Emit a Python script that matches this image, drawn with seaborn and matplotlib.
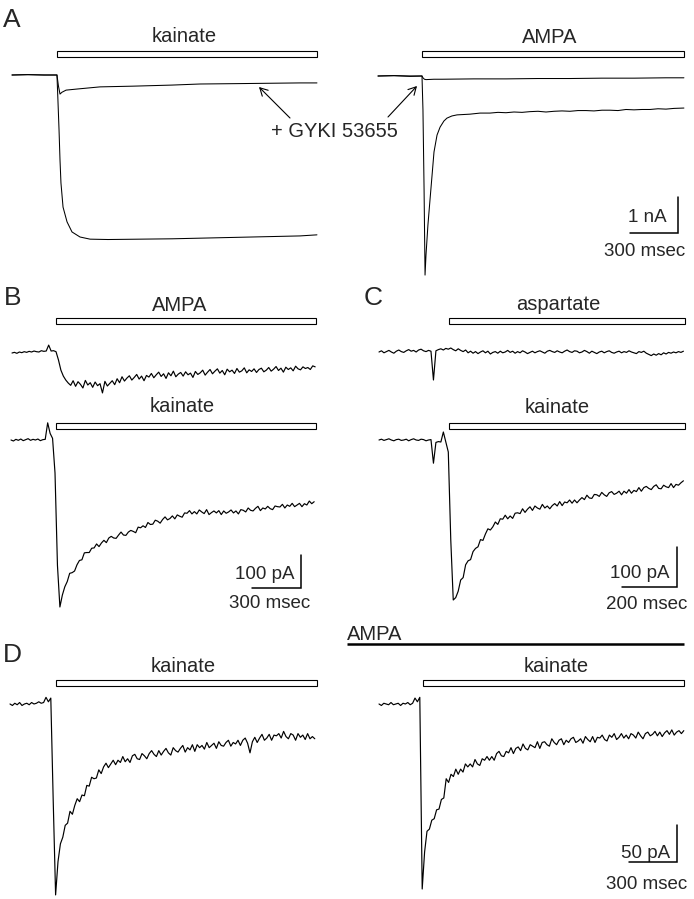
import numpy as np
import matplotlib.pyplot as plt
import matplotlib.transforms as mtransforms
from matplotlib.patches import Rectangle
import seaborn as sns

sns.set_style('white')
plt.rcParams['font.family'] = ['Liberation Sans', 'DejaVu Sans']

# ---- panel A (nA, ms) : smooth traces, sampled at irregular times ----
a_kai_t = [0, 100, 200, 281, 287, 294, 300, 306, 319, 344, 375, 425, 488, 600, 800,
           1000, 1200, 1400, 1600, 1800, 1906]
a_kai_i = [0, 0.01, 0, 0, -0.69, -1.53, -2.36, -3.0, -3.67, -4.08, -4.36, -4.5, -4.56,
           -4.57, -4.56, -4.55, -4.53, -4.51, -4.49, -4.47, -4.44]
a_kai_gyki_t = [0, 100, 200, 281, 290, 300, 312, 338, 406, 550, 756, 1000, 1175, 1400,
                1600, 1800, 1906]
a_kai_gyki_i = [0, 0.01, 0, 0, -0.3, -0.53, -0.48, -0.42, -0.39, -0.33, -0.31, -0.28,
                -0.25, -0.24, -0.23, -0.22, -0.22]

a_ampa_t = [0, 100, 200, 275, 281, 288, 294, 300, 312, 325, 338, 350, 369, 388, 412, 431,
            462, 494, 575, 638, 700, 750, 800, 850, 900, 950, 1000, 1050, 1100, 1150, 1200,
            1250, 1300, 1350, 1400, 1450, 1500, 1550, 1600, 1650, 1700, 1750, 1800, 1850, 1912]
a_ampa_i = [0, 0.01, -0.01, 0, -0.94, -3.17, -5.53, -4.97, -4.14, -3.44, -2.75, -2.11,
            -1.64, -1.42, -1.25, -1.17, -1.11, -1.08, -1.06, -1.03, -1.03, -1.01, -1.02,
            -1.0, -1.01, -0.99, -0.98, -1.0, -0.98, -0.97, -0.98, -0.96, -0.96, -0.97,
            -0.95, -0.95, -0.96, -0.93, -0.94, -0.93, -0.93, -0.91, -0.92, -0.9, -0.89]
a_ampa_gyki_t = [0, 100, 200, 275, 281, 290, 300, 350, 400, 600, 800, 1000, 1200, 1400,
                 1600, 1800, 1912]
a_ampa_gyki_i = [0, 0.01, 0, 0, -0.05, -0.09, -0.1, -0.09, -0.09, -0.08, -0.08, -0.07,
                 -0.07, -0.06, -0.06, -0.05, -0.05]

# ---- panel B (pA), sampled every 15 ms ----
b_dt = 15
b_ampa = [0, 2, -1, 3, 1, 4, 2, 5, 3, 6, 4, 3, 7, 5, 6, 24, 6, 7, 4,
          -21, -52, -70, -82, -91,
          -98, -84, -101, -87, -95, -106, -83, -97, -90, -104, -88, -99, -93, -121, -86,
          -100, -92, -84, -96,
          -78, -90, -72, -85, -76, -69, -82, -74, -65, -79, -70, -84, -68, -73,
          -62, -75, -66, -58, -71, -63, -77, -60, -69, -55, -72, -64, -59, -70, -57, -66,
          -61, -74, -56, -65, -60,
          -52, -67, -58, -50, -63, -55, -48, -61, -53, -66, -49, -57, -52, -62, -47, -58,
          -54, -45, -60, -51, -56, -48, -59, -50, -46, -57, -52,
          -44, -55, -49, -41, -53, -46, -58, -43, -50, -45, -54, -40, -48, -51, -42, -47,
          -44, -50, -39, -42]
b_kai = [0, -3, 2, -1, 3, -2, 1, 4, -1, 2, 0, 3, -2, 1, 2, 52, 20, 5, -100, -380, -506, -470,
         -445, -429, -404, -402, -397, -378, -365, -363, -342, -341, -341, -328, -327, -315,
         -323, -312, -304, -311, -297, -292, -297, -298, -288, -279, -288, -289, -279, -274,
         -277, -281, -264, -266, -260, -265, -250, -256, -255, -243, -246, -252, -241, -233,
         -242, -238, -230, -239, -227, -231, -234, -221, -222, -214, -224, -217, -224, -212,
         -218, -223, -211, -226, -220, -215, -221, -214, -226, -215, -222, -218, -212, -221,
         -215, -224, -211, -213, -218, -206, -213, -215, -207, -201, -214, -206, -209, -201,
         -208, -211, -200, -202, -203, -195, -206, -197, -201, -192, -202, -197, -192, -202,
         -193, -197, -185, -193, -187]

# ---- panel C (pA), sampled every 9 ms ----
c_dt = 9
c_asp = [0, 3, -2, 1, 4, 0, -3, 2, 5, 1, -1, 3, 6, 2, 4, 0, 5, 7, 3, 1, 4, 2,
         -70,
         3, 6, 8, 5, 9, 7, 10, 6, 3, 8, 4, 1, 5, -2, 2,
         -3, 1, -4, 0, 3, -2, 2, -5, -1, 1, -3, 2, -2, 0, 4, -1, 2, -3, 1, -2, 3, 0, -4, -1,
         2, -2, 1, 3, 0, -3, 2, 4, 1, -1, 3, 0, -2, 2, 5, 1, -1, 3, 2, -2, 0, 4, 1, -3, 2,
         -1, -4, 0, 2, -2, 1, 3, -1, -3, 0, 2, -2, 1, -1, 3, 0, -2, -4, 1, -1, 2, -3, -6,
         -9, -5, -8, -4, -7, -2, -5, -1, -3, 0, -2, 1, -1, 2]
c_kai = [0, 2, -1, 1, 3, 0, -2, 1, 2, -1, 0, 2, -2, 1, 3, 0, -1, 2, 1, -2, 0, 1,
         -58, -6, -4, -5, 20, -5, -30, -250,
         -400, -394, -378, -350, -344, -312, -302, -299, -279, -271, -267, -249, -251, -235,
         -222, -225, -217, -205, -211, -197, -198, -188, -197, -190, -196, -183, -182, -184,
         -172, -181, -173, -167, -176, -165, -170, -173, -161, -170, -165, -172, -164, -159,
         -165, -154, -164, -155, -157, -150, -158, -150, -157, -150, -144, -149, -138, -145,
         -146, -136, -137, -141, -131, -137, -141, -132, -129, -136, -133, -128, -137, -128,
         -133, -124, -133, -126, -129, -119, -128, -119, -116, -121, -124, -116, -112, -121,
         -122, -113, -117, -119, -109, -119, -111, -113, -107, -102]

# ---- panel D (pA), sampled every 15 ms ----
d_dt = 15
d_kai = [0, -2, 1, -1, 2, -2, 0, 1, -1, 2, 0, 1, 3, 1, 2, 9, 3, 8,
         -130, -258, -213, -189, -180, -164, -161, -145, -149, -137, -128, -132, -123, -124,
         -110, -111, -99, -101, -100, -89, -94, -85, -80, -86, -81, -76, -82, -76, -79, -71,
         -78, -74, -79, -70, -68, -74, -75, -67, -70, -74, -67, -63, -68, -71, -63, -69, -64,
         -60, -66, -69, -59, -63, -65, -60, -56, -65, -59, -62, -55, -64, -55, -59, -56, -61,
         -52, -59, -56, -53, -60, -51, -56, -57, -52, -49, -57, -52, -54, -49, -56, -49, -46,
         -53, -66, -51, -45, -52, -46, -41, -49, -46, -41, -49, -42, -43, -40, -46, -37, -44,
         -47, -40, -42, -49, -40, -45, -42, -48, -40, -47, -44, -47]
d_kai_ampa = [0, -2, 1, 0, -1, 2, -1, 0, 1, -2, 1, 0, 2, -1, 1, 8, 3, 9,
              -250, -200, -172, -169, -157, -155, -143, -142, -129, -127, -101, -106, -95,
              -98, -88, -95, -88, -92, -81, -85, -81, -85, -75, -81, -83, -74, -76, -71, -76,
              -71, -76, -67, -64, -70, -71, -64, -66, -59, -67, -60, -58, -63, -54, -60, -62,
              -55, -57, -59, -51, -60, -52, -51, -55, -57, -47, -52, -55, -49, -47, -55, -49,
              -52, -47, -45, -52, -50, -47, -53, -44, -48, -51, -44, -52, -45, -46, -42, -48,
              -50, -42, -45, -40, -48, -45, -40, -46, -42, -47, -40, -42, -46, -38, -43, -47,
              -40, -38, -43, -41, -37, -43, -38, -44, -39, -36, -41, -35, -42, -38, -36, -40, -36]

# drug application windows (ms)
a_kai_on, a_kai_off = 281, 1906
a_ampa_on, a_ampa_off = 275, 1912
b_on, b_off = 270, 1865
c_on, c_off = 255, 1113
d_on, d_off = 287, 1919
d2_on, d2_off = 275, 1906
d_ampa_on, d_ampa_off = -200, 1906

W, H = 694, 899
fig = plt.figure(figsize=(W / 100, H / 100), dpi=100)
base = fig.add_axes([0, 0, 1, 1])
base.set_xlim(0, W)
base.set_ylim(H, 0)
base.axis('off')


def trace_axes(x0, y0, sx, sy):
    # full-figure axes; x0,y0 = pixel position of (t=0, I=0), sx/sy pixels per unit
    ax = fig.add_axes([0, 0, 1, 1])
    ax.patch.set_visible(False)
    ax.m = (x0, y0, sx, sy)
    return ax


def finish(ax):
    x0, y0, sx, sy = ax.m
    ax.set_xlim(-x0 / sx, (W - x0) / sx)
    ax.set_ylim((y0 - H) / sy, y0 / sy)
    ax.axis('off')


def draw(ax, t, i, lw=0.85):
    sns.lineplot(x=t, y=i, ax=ax, color='black', lw=lw, estimator=None, sort=False)


def drug_bar(ax, t0, t1, ytop, h=5.5):
    tr = mtransforms.blended_transform_factory(ax.transData, base.transData)
    ax.add_patch(Rectangle((t0, ytop), t1 - t0, h, transform=tr, facecolor='white',
                           edgecolor='black', lw=0.8, clip_on=False))


def scale_bar(ax, xc, yc, tlen, ilen):
    x0, y0, sx, sy = ax.m
    tc, ic = (xc - x0) / sx, (y0 - yc) / sy
    ax.plot([tc - tlen, tc, tc], [ic, ic, ic + ilen], color='black', lw=1.1,
            solid_joinstyle='miter')


# A
ax = trace_axes(12, 75, 0.16, 36)
draw(ax, a_kai_t, a_kai_i, 0.75)
draw(ax, a_kai_gyki_t, a_kai_gyki_i, 0.75)
drug_bar(ax, a_kai_on, a_kai_off, 51)
finish(ax)

ax = trace_axes(378, 76, 0.16, 36)
draw(ax, a_ampa_t, a_ampa_i, 0.75)
draw(ax, a_ampa_gyki_t, a_ampa_gyki_i, 0.75)
drug_bar(ax, a_ampa_on, a_ampa_off, 51)
scale_bar(ax, 678, 233, 300, 1)
finish(ax)

# B
ax = trace_axes(12, 353, 0.163, 0.33)
draw(ax, np.arange(len(b_ampa)) * b_dt, b_ampa)
drug_bar(ax, b_on, b_off, 318)
finish(ax)

ax = trace_axes(11, 440, 0.163, 0.33)
draw(ax, np.arange(len(b_kai)) * b_dt, b_kai)
drug_bar(ax, b_on + 6, b_off + 6, 423)
scale_bar(ax, 301, 588, 300, 100)
finish(ax)

# C
ax = trace_axes(379, 352, 0.275, 0.40)
draw(ax, np.arange(len(c_asp)) * c_dt, c_asp)
drug_bar(ax, c_on, c_off, 318)
finish(ax)

ax = trace_axes(379, 440, 0.275, 0.40)
draw(ax, np.arange(len(c_kai)) * c_dt, c_kai)
drug_bar(ax, c_on, c_off, 423)
scale_bar(ax, 677, 587, 200, 100)
finish(ax)

# D
ax = trace_axes(10, 704, 0.16, 0.74)
draw(ax, np.arange(len(d_kai)) * d_dt, d_kai)
drug_bar(ax, d_on, d_off, 680)
finish(ax)

ax = trace_axes(379, 704, 0.16, 0.74)
draw(ax, np.arange(len(d_kai_ampa)) * d_dt, d_kai_ampa)
drug_bar(ax, d2_on, d2_off, 680)
tr = mtransforms.blended_transform_factory(ax.transData, base.transData)
ax.plot([d_ampa_on, d_ampa_off], [644, 644], transform=tr, color='black', lw=1.8,
        solid_capstyle='butt', clip_on=False)
scale_bar(ax, 677, 862, 300, 50)
finish(ax)

# text
for s, x, y in [('A', 3, 27), ('B', 4, 305), ('C', 364, 305), ('D', 3, 662)]:
    base.text(x, y, s, fontsize=19, ha='left', va='baseline')

for s, x, y in [('kainate', 184, 42), ('AMPA', 550, 43), ('AMPA', 180, 311),
                ('kainate', 182, 412), ('aspartate', 558, 310), ('kainate', 557, 413),
                ('kainate', 183, 672), ('kainate', 556, 672)]:
    base.text(x, y, s, fontsize=14.5, ha='center', va='baseline')
base.text(347, 640, 'AMPA', fontsize=14.5, ha='left', va='baseline')

base.text(334, 137, '+ GYKI 53655', fontsize=14.5, ha='center', va='baseline')
for head, tail in [((259, 87), (290, 118)), ((417, 86), (388, 117))]:
    base.annotate('', xy=head, xytext=tail,
                  arrowprops=dict(arrowstyle='->,head_length=0.55,head_width=0.3',
                                  lw=0.8, color='black', shrinkA=0, shrinkB=0))

for s, x, y in [('1 nA', 667, 222), ('100 pA', 295, 579), ('100 pA', 670, 578),
                ('50 pA', 670, 858)]:
    base.text(x, y, s, fontsize=13.5, ha='right', va='baseline')
for s, x, y in [('300 msec', 645, 256), ('300 msec', 270, 608), ('200 msec', 647, 609),
                ('300 msec', 647, 889)]:
    base.text(x, y, s, fontsize=13.5, ha='center', va='baseline')

fig.savefig('out.png', dpi=100)
